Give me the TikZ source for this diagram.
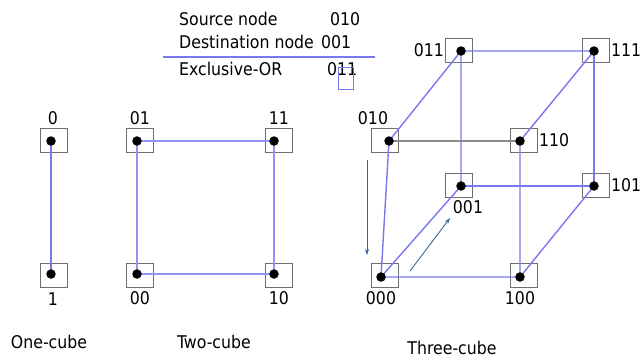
\documentclass[tikz,border=0pt]{standalone}
\usepackage{fontspec}
\setmainfont{DejaVu Sans Condensed}
\usetikzlibrary{positioning,arrows.meta}
\definecolor{edgeblue}{RGB}{120,120,240}
\definecolor{arrowblue}{RGB}{60,100,150}
\definecolor{boxgray}{RGB}{110,110,110}
\tikzset{
  pe/.style={draw=boxgray,line width=0.9pt,minimum width=27pt,minimum height=24pt,inner sep=0pt},
  dot/.style={circle,fill=black,inner sep=0pt,minimum size=9.5pt},
  link/.style={draw=edgeblue,line width=1.4pt},
  lbl/.style={font=\fontsize{17.5}{19}\selectfont,inner sep=1pt},
  walk/.style={draw=arrowblue,line width=0.9pt,-{Stealth[length=6pt,width=4pt]}}
}
\begin{document}
\begin{tikzpicture}[x=1pt,y=-1pt]
\useasboundingbox (0,0) rectangle (642,360);
% header: source, destination and their exclusive-OR
\node[lbl,anchor=west] (srct) at (178,19) {Source node};
\node[lbl,anchor=west] (srcv) at (329,19) {010};
\node[lbl,anchor=west] (dstt) at (178,42) {Destination node};
\node[lbl,anchor=west] (dstv) at (320,42) {001};
\node[lbl,anchor=west] (xort) at (178,69) {Exclusive-OR};
\node[lbl,anchor=west] (xorv) at (326,69) {011};
\coordinate (rulea) at (163,57);
\coordinate (ruleb) at (375,57);
\draw[link] (rulea) -- (ruleb);
\node[draw=edgeblue,line width=1pt,minimum width=15pt,minimum height=22pt,inner sep=0pt] (bit) at (346,78) {};
% one-cube
\node[pe] (b0) at (54,140) {};
\node[pe] (b1) at (54,275) {};
\coordinate (p0) at (51,141);
\coordinate (p1) at (51,274);
\draw[link] (p0) -- (p1);
\node[dot] (d0) at (p0) {};
\node[dot] (d1) at (p1) {};
\node[lbl] (l0) at (53,118) {0};
\node[lbl] (l1) at (53,299) {1};
% two-cube
\node[pe] (b01) at (140,140) {};
\node[pe] (b11) at (279,140) {};
\node[pe] (b00) at (140,275) {};
\node[pe] (b10) at (279,275) {};
\coordinate (p01) at (137,141);
\coordinate (p11) at (274,141);
\coordinate (p00) at (137,274);
\coordinate (p10) at (274,274);
\draw[link,draw=edgeblue!80,line width=2pt] (p01) -- (p11) -- (p10) -- (p00) -- cycle;
\foreach \n in {01,11,00,10} \node[dot] (d\n) at (p\n) {};
\node[lbl] (l01) at (140,118) {01};
\node[lbl] (l11) at (279,118) {11};
\node[lbl] (l00) at (140,298) {00};
\node[lbl] (l10) at (279,298) {10};
% three-cube
\node[pe] (b011) at (459,50) {};
\node[pe] (b111) at (596,50) {};
\node[pe] (b010) at (385,140) {};
\node[pe] (b110) at (524,140) {};
\node[pe] (b001) at (459,185) {};
\node[pe] (b101) at (596,185) {};
\node[pe] (b000) at (385,275) {};
\node[pe] (b100) at (524,275) {};
\coordinate (p011) at (461,51);
\coordinate (p111) at (594,51);
\coordinate (p010) at (389,141);
\coordinate (p110) at (520,141);
\coordinate (p001) at (461,186);
\coordinate (p101) at (594,186);
\coordinate (p000) at (381,277);
\coordinate (p100) at (520,277);
\draw[link] (p000) -- (p010) -- (p011) -- (p111) -- (p110) -- (p100) -- (p000) -- (p001) -- (p011);
\draw[link] (p001) -- (p101) -- (p111);
\draw[link] (p101) -- (p100);
\draw[draw=boxgray!80,line width=1.4pt] (p010) -- (p110);
\foreach \n in {011,111,010,110,001,101,000,100} \node[dot] (d\n) at (p\n) {};
\node[lbl,anchor=east] (l011) at (b011.west) {011};
\node[lbl,anchor=west] (l111) at (b111.east) {111};
\node[lbl] (l010) at (373,118) {010};
\node[lbl,anchor=west] (l110) at (b110.east) {110};
\node[lbl] (l001) at (468,207) {001};
\node[lbl,anchor=west] (l101) at (b101.east) {101};
\node[lbl] (l000) at (381,298) {000};
\node[lbl] (l100) at (520,298) {100};
% route from 010 to 001
\coordinate (wa) at (367,160);
\coordinate (wb) at (367,255);
\coordinate (wc) at (410,271);
\coordinate (wd) at (450,218);
\draw[walk] (wa) -- (wb);
\draw[walk] (wc) -- (wd);
% captions
\node[lbl] (c1) at (49,342) {One-cube};
\node[lbl] (c2) at (214,342) {Two-cube};
\node[lbl] (c3) at (452,348) {Three-cube};
\end{tikzpicture}
\end{document}
